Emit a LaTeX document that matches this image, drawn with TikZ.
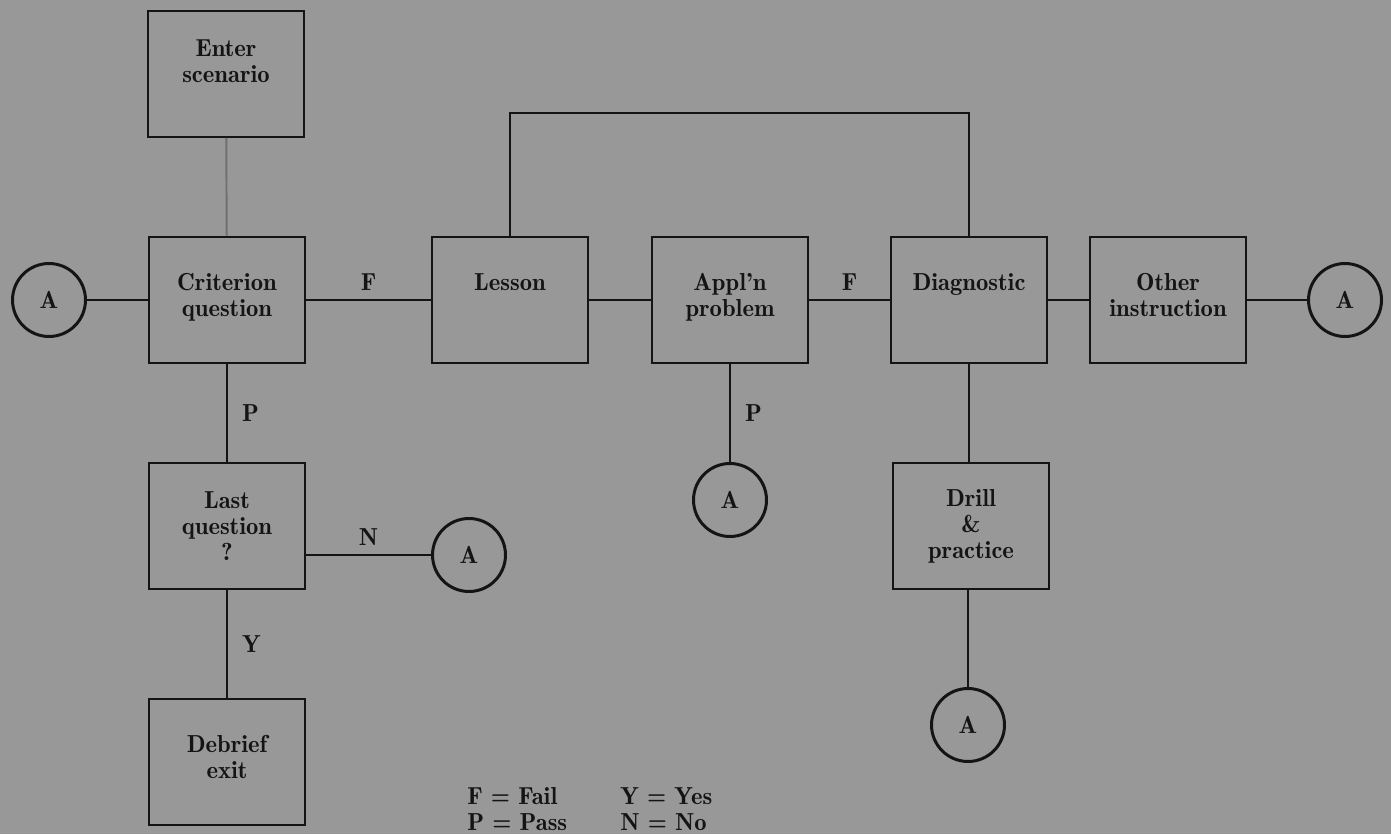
\documentclass[tikz,border=0pt]{standalone}
\usepackage{fontspec}
\usetikzlibrary{positioning,calc}
\newfontfamily\chartfam[Ligatures=TeX]{lmromandemi10-regular.otf}
\definecolor{paper}{HTML}{989898}
\definecolor{ink}{HTML}{141414}
\definecolor{ink3}{HTML}{707070}
\newcommand\chartfont{\chartfam\fontsize{14}{14.8}\selectfont}
\tikzset{
  box/.style={draw=ink, line width=1.1pt, minimum width=3.12cm, minimum height=2.52cm,
    align=center, font=\chartfont, text=ink, inner sep=0pt},
  conn/.style={draw=ink, line width=1.1pt},
  faint/.style={draw=ink3, line width=1.1pt},
  term/.style={circle, draw=ink, line width=1.7pt, minimum size=1.46cm, inner sep=0pt,
    font=\chartfont, text=ink},
  lbl/.style={font=\chartfont, text=ink, inner sep=5pt},
  key/.style={font=\chartfont, text=ink, align=left, anchor=west, inner sep=0pt},
}

\begin{document}
\begin{tikzpicture}[x=0.02cm, y=-0.02cm]
  \fill[paper] (0,0) rectangle (1391,834);
  \useasboundingbox (0,0) rectangle (1391,834);

  % ---------------- boxes ----------------
  \node[box] (enter)   at (226,74)   {Enter\\scenario\\\mbox{}};
  \node[box] (crit)    at (227,300)  {Criterion\\question\\[-9pt]\mbox{}};
  \node[box] (lesson)  at (510,300)  {Lesson\\[5.8pt]\mbox{}};
  \node[box] (appl)    at (730,300)  {Appl’n\\problem\\[-9pt]\mbox{}};
  \node[box] (diag)    at (969,300)  {Diagnostic\\[5.8pt]\mbox{}};
  \node[box] (other)   at (1168,300) {Other\\instruction\\[-9pt]\mbox{}};
  \node[box] (last)    at (227,526)  {Last\\question\\?};
  \node[box] (debrief) at (227,762)  {Debrief\\exit\\[-9pt]\mbox{}};
  \node[box] (drill)   at (971,526)  {Drill\\\&\\practice};

  % ---------------- connectors A ----------------
  \node[term] (aL) at (49,300)   {A};
  \node[term] (aR) at (1345,300) {A};
  \node[term] (aN) at (469,555)  {A};
  \node[term] (aP) at (730,500)  {A};
  \node[term] (aD) at (968,725)  {A};

  % ---------------- main row ----------------
  \draw[faint] (enter) -- (crit);
  \draw[conn] (aL) -- (crit);
  \draw[conn] (crit) -- (lesson) node[lbl, midway, above] {F};
  \draw[conn] (lesson) -- (appl);
  \draw[conn] (appl) -- (diag) node[lbl, midway, above] {F};
  \draw[conn] (diag) -- (other);
  \draw[conn] (other) -- (aR);
  \coordinate (looptop) at (740,113);
  \draw[conn] (lesson.north) |- (looptop) -| (diag.north);

  % ---------------- branches ----------------
  \draw[conn] (crit) -- (last) node[lbl, midway, right=3pt] {P};
  \draw[conn] (last.east |- aN) -- (aN) node[lbl, midway, above] {N};
  \draw[conn] (last) -- (debrief) node[lbl, midway, right=3pt] {Y};
  \draw[conn] (appl) -- (aP) node[lbl, midway, right=3pt] {P};
  \draw[conn] (diag.south) -- (diag.south |- drill.north);
  \draw[conn] (drill.south -| aD) -- (aD);

  % ---------------- key ----------------
  \node[key] (keyFP) at (467,809) {F = Fail\\P = Pass};
  \node[key] (keyYN) at (620,809) {Y = Yes\\N = No};
\end{tikzpicture}
\end{document}
